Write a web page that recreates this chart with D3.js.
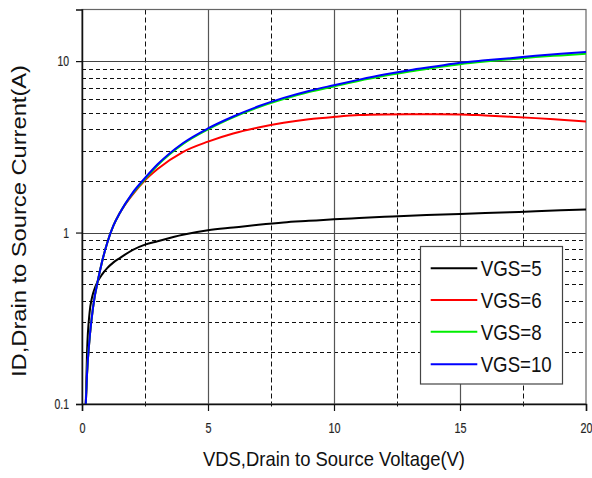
<!DOCTYPE html>
<html>
<head>
<meta charset="utf-8">
<script src="https://cdn.jsdelivr.net/npm/d3@7"></script>
<style>
  html, body { margin: 0; padding: 0; background: #fff; }
  svg { display: block; }
</style>
</head>
<body>
<svg id="chart" width="592" height="478"></svg>
<script>
// ---- data ----
const vds = [0.15,0.2,0.3,0.4,0.5,0.6,0.8,1,1.25,1.5,2,2.5,3,4,5,6,7,8,9,10,11,12,13,14,15,16,17,18,19,20];
const idVgs5  = [0.1,0.2,0.34,0.42,0.47,0.51,0.57,0.62,0.67,0.71,0.79,0.85,0.89,0.97,1.03,1.07,1.11,1.145,1.17,1.195,1.215,1.235,1.255,1.27,1.285,1.30,1.315,1.33,1.35,1.365];
const idVgs6  = [0.1,0.15,0.24,0.33,0.42,0.50,0.68,0.87,1.1,1.3,1.66,2.02,2.35,2.95,3.39,3.78,4.1,4.37,4.58,4.73,4.85,4.89,4.9,4.9,4.89,4.82,4.74,4.65,4.55,4.45];
const idVgs8  = [0.1,0.15,0.24,0.33,0.42,0.50,0.68,0.87,1.1,1.3,1.68,2.05,2.47,3.28,4.0,4.7,5.38,6.0,6.6,7.12,7.68,8.2,8.7,9.15,9.6,9.95,10.25,10.55,10.8,11.05];
const idVgs10 = [0.1,0.15,0.24,0.33,0.42,0.50,0.68,0.87,1.1,1.3,1.7,2.08,2.5,3.32,4.05,4.75,5.45,6.1,6.7,7.24,7.8,8.35,8.85,9.3,9.78,10.1,10.4,10.75,11.05,11.3];
const seriesNames = ["VGS=5","VGS=6","VGS=8","VGS=10"];
const seriesColors = ["#000000","#ff0000","#00ee00","#0000ff"];
const xTicks = [0,5,10,15,20];
const xMinorTicks = [2.5,7.5,12.5,17.5];
const yTicks = [0.1,1,10];
const yTickLabels = ["0.1","1","10"];
const yMinorTicks = [0.2,0.3,0.4,0.5,0.6,0.7,0.8,0.9,2,3,4,5,6,7,8,9];
const xTitle = "VDS,Drain to Source Voltage(V)";
const yTitle = "ID,Drain to Source Current(A)";

// ---- layout ----
const L = 82, R = 586, T = 9.5, B = 404;
const svg = d3.select("#chart");
const x = d3.scaleLinear().domain([0,20]).range([L,R]);
const y = d3.scaleLog().domain([0.1,20]).range([B,T]);
const font = "'Liberation Sans', Arial, sans-serif";

// grid
const grid = svg.append("g");
grid.selectAll("line.ymin").data(yMinorTicks).join("line")
  .attr("x1",L).attr("x2",R).attr("y1",d=>Math.round(y(d))+0.5).attr("y2",d=>Math.round(y(d))+0.5)
  .attr("stroke","#111").attr("stroke-width",1).attr("stroke-dasharray","4,3");
grid.selectAll("line.xmin").data(xMinorTicks).join("line")
  .attr("y1",T).attr("y2",B+4).attr("x1",d=>Math.round(x(d))+0.5).attr("x2",d=>Math.round(x(d))+0.5)
  .attr("stroke","#111").attr("stroke-width",1).attr("stroke-dasharray","5,3");
grid.selectAll("line.xmaj").data([5,10,15]).join("line")
  .attr("y1",T).attr("y2",B).attr("x1",d=>Math.round(x(d))+0.5).attr("x2",d=>Math.round(x(d))+0.5)
  .attr("stroke","#555").attr("stroke-width",1.2);
grid.selectAll("line.ymaj").data([1,10]).join("line")
  .attr("x1",L).attr("x2",R).attr("y1",d=>Math.round(y(d))+0.5).attr("y2",d=>Math.round(y(d))+0.5)
  .attr("stroke","#444").attr("stroke-width",1.2);

// frame
svg.append("rect").attr("x",L).attr("y",T).attr("width",R-L).attr("height",B-T)
  .attr("fill","none").attr("stroke","#666").attr("stroke-width",1.2);

// curves
svg.append("clipPath").attr("id","clip").append("rect")
  .attr("x",L).attr("y",T).attr("width",R-L).attr("height",B-T);
const allSeries = [idVgs5, idVgs6, idVgs8, idVgs10];
const line = d3.line().x(d=>x(d[0])).y(d=>y(d[1])).curve(d3.curveMonotoneX);
const curves = svg.append("g").attr("clip-path","url(#clip)");
allSeries.forEach((s,i)=>{
  curves.append("path").datum(vds.map((v,j)=>[v,s[j]]))
    .attr("d",line).attr("fill","none").attr("stroke",seriesColors[i])
    .attr("stroke-width",2).attr("stroke-linejoin","round");
});

// axes
const xAxis = svg.append("g").attr("transform",`translate(0,${B})`)
  .call(d3.axisBottom(x).tickValues(xTicks).tickSize(7).tickPadding(11).tickFormat(d3.format("d")));
const yAxis = svg.append("g").attr("transform",`translate(${L},0)`)
  .call(d3.axisLeft(y).tickValues(yTicks).tickSize(6).tickPadding(7).tickFormat((d,i)=>yTickLabels[i]));
[xAxis,yAxis].forEach(a=>{
  a.select(".domain").attr("stroke","#111").attr("stroke-width",1.5);
  a.selectAll(".tick line").attr("stroke","#111").attr("stroke-width",1.2);
  a.selectAll(".tick text").attr("fill","#222").attr("font-family",font).attr("font-size",15)
    .attr("stroke","#444").attr("stroke-width",0.25);
});
// condense the tick digits horizontally
xAxis.selectAll(".tick text").attr("transform","scale(0.72,1)");
yAxis.selectAll(".tick text").each(function(){
  const t = d3.select(this);
  const xx = +t.attr("x");
  t.attr("transform","scale(0.72,1)").attr("x", xx/0.72).attr("font-size",14.5);
});

// titles
svg.append("text").attr("x",(203+465)/2).attr("y",466).attr("text-anchor","middle")
  .attr("font-family",font).attr("font-size",21).attr("fill","#111")
  .attr("textLength",262).attr("lengthAdjust","spacingAndGlyphs").text(xTitle);
svg.append("text").attr("transform","translate(26,221) rotate(-90)").attr("text-anchor","middle")
  .attr("font-family",font).attr("font-size",21).attr("fill","#111")
  .attr("textLength",312).attr("lengthAdjust","spacingAndGlyphs").text(yTitle);

// legend
const lg = svg.append("g");
lg.append("rect").attr("x",420.5).attr("y",246.5).attr("width",142).attr("height",137.5)
  .attr("fill","#fff").attr("stroke","#444").attr("stroke-width",1.2);
const legY = [268.3,300,331.7,364.3];
seriesNames.forEach((n,i)=>{
  lg.append("line").attr("x1",430.7).attr("x2",477.3).attr("y1",legY[i]).attr("y2",legY[i])
    .attr("stroke",seriesColors[i]).attr("stroke-width",2);
  lg.append("text").attr("x",480.7).attr("y",legY[i]+8).attr("font-family",font)
    .attr("font-size",22).attr("fill","#111")
    .attr("textLength", n.length===5 ? 61 : 71).attr("lengthAdjust","spacingAndGlyphs").text(n);
});
</script>
</body>
</html>
